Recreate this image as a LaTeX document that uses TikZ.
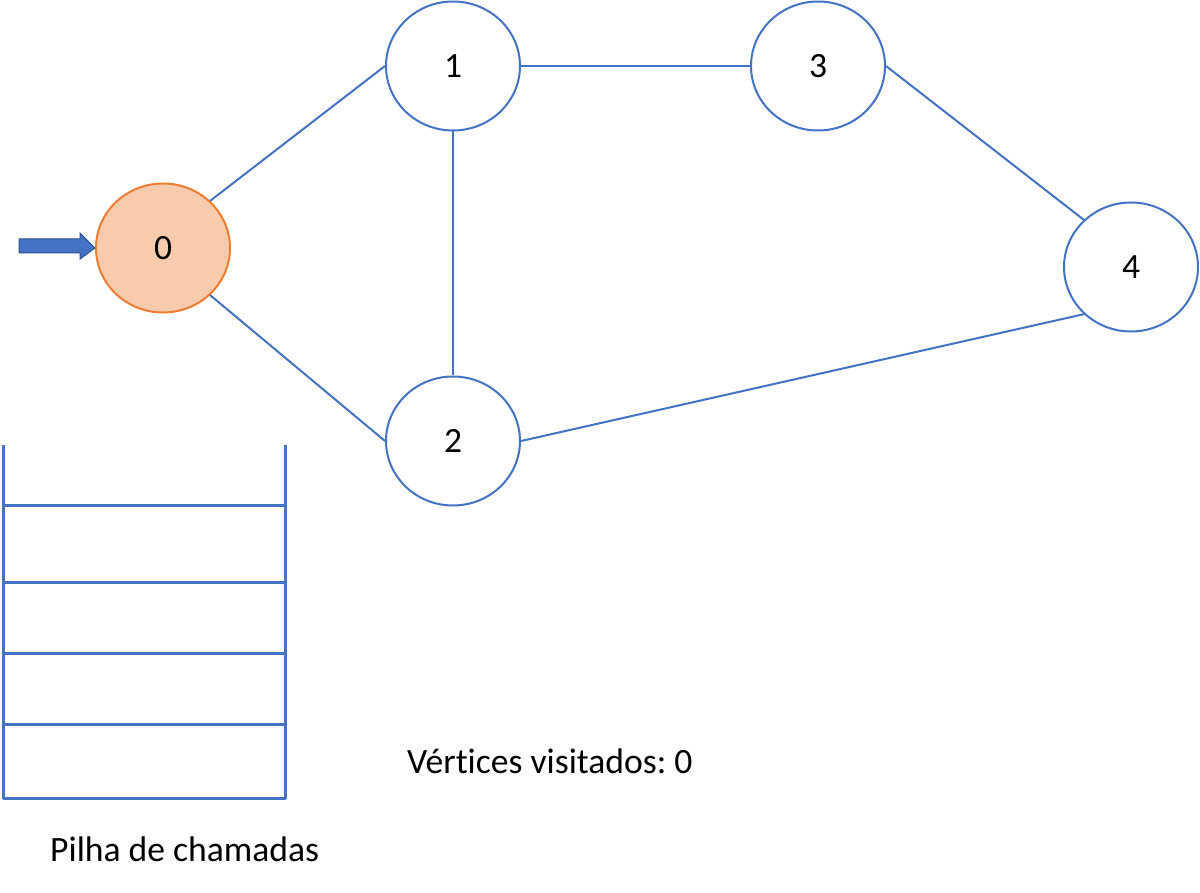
\documentclass[tikz,border=0pt]{standalone}
\usepackage{fontspec}
\setmainfont[Ligatures=NoCommon]{Carlito}
\usetikzlibrary{shapes.geometric}
\definecolor{lineblue}{HTML}{4472C4}
\definecolor{darkblue}{HTML}{2F528F}
\definecolor{orangefill}{HTML}{F8CBAD}
\definecolor{orangeline}{HTML}{ED7D31}
\frenchspacing
\begin{document}
\begin{tikzpicture}[x=1pt,y=-1pt,
  vert/.style={ellipse, draw=lineblue, fill=white, line width=2pt, minimum width=134pt, minimum height=129pt, inner sep=0pt, font=\fontsize{35.5}{42}\selectfont},
  edge/.style={lineblue, line width=2pt},
  stackline/.style={lineblue, line width=3pt},
  label/.style={inner sep=0pt, anchor=base west, font=\fontsize{35.6}{42}\selectfont}]
\useasboundingbox (0,0) rectangle (1200,893);
\fill[white] (0,0) rectangle (1200,893);
% nodes
\node[vert, fill=orangefill, draw=orangeline] (n0) at (163,248) {0};
\node[vert] (n1) at (453,66) {1};
\node[vert] (n3) at (818,66) {3};
\node[vert] (n4) at (1131,267) {4};
\node[vert] (n2) at (453,441) {2};
% edges
\draw[edge] (n0.45) -- (n1.west);
\draw[edge] (n0.-45) -- (n2.west);
\draw[edge] (n1.east) -- (n3.west);
\draw[edge] (n1.south) -- (n2.north);
\draw[edge] (n3.east) -- (n4.135);
\draw[edge] (n2.east) -- (n4.-135);
% arrow
\coordinate (atip) at (n0.west);
\filldraw[fill=lineblue, draw=darkblue, line width=1pt]
  (19,239) -- (80,239) -- (80,233) -- (atip) -- (80,259) -- (80,253) -- (19,253) -- cycle;
% stack
\draw[stackline, line join=round] (3,445) -- (3,798) -- (285,798) -- (285,445);
\draw[stackline] (3,505) -- (285,505);
\draw[stackline] (3,582) -- (285,582);
\draw[stackline] (3,653) -- (285,653);
\draw[stackline] (3,724) -- (285,724);
% labels
\node[label] (vis) at (407,773) {Vértices visitados: 0};
\node[label] (pilha) at (50,861) {Pilha de chamadas};
\end{tikzpicture}
\end{document}
